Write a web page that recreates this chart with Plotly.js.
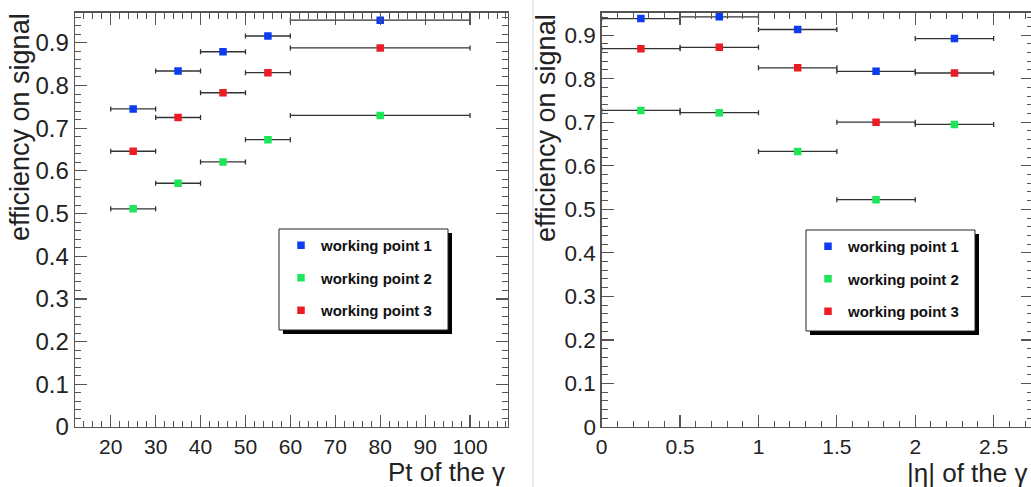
<!DOCTYPE html>
<html>
<head>
<meta charset="utf-8">
<script src="https://cdn.plot.ly/plotly-3.0.1.min.js"></script>
<style>
html,body{margin:0;padding:0;overflow:hidden;background:#fff;}
#plot{width:1035px;height:487px;}
</style>
</head>
<body>
<div id="plot"></div>
<script>
// ---- data ----
const seriesNames = ["working point 1", "working point 2", "working point 3"];
const ptCenters = [25, 35, 45, 55, 80];
const ptHalfWidths = [5, 5, 5, 5, 20];
const ptWP1 = [0.745, 0.834, 0.879, 0.916, 0.953];
const ptWP2 = [0.511, 0.571, 0.621, 0.673, 0.730];
const ptWP3 = [0.646, 0.725, 0.783, 0.830, 0.888];

const etaCenters = [0.25, 0.75, 1.25, 1.75, 2.25];
const etaHalfWidths = [0.25, 0.25, 0.25, 0.25, 0.25];
const etaWP1 = [0.938, 0.942, 0.913, 0.817, 0.892];
const etaWP2 = [0.727, 0.722, 0.633, 0.522, 0.695];
const etaWP3 = [0.869, 0.872, 0.825, 0.700, 0.813];

const colors = ["#0b3cf0", "#1ee65a", "#ec1c24"];

// ---- layout helpers ----
const W = 1035, H = 487;
const px = x => x / W;
const py = y => 1 - y / H;
const FONT = "Liberation Sans, Arial, Helvetica, sans-serif";

function mk(x, y, err, i, xa, ya, leg) {
  return {
    type: "scatter", mode: "markers",
    x: x, y: y, xaxis: xa, yaxis: ya,
    name: seriesNames[i], legend: leg, legendgroup: leg + i,
    marker: {symbol: "square", size: 7.5, color: colors[i]},
    error_x: {type: "data", array: err, visible: true, color: "#333", thickness: 1.3, width: 2.5},
    hoverinfo: "skip"
  };
}

const ptSeries = [ptWP1, ptWP2, ptWP3];
const etaSeries = [etaWP1, etaWP2, etaWP3];
const traces = [];
ptSeries.forEach((s, i) => traces.push(mk(ptCenters, s, ptHalfWidths, i, "x", "y", "legend")));
etaSeries.forEach((s, i) => traces.push(mk(etaCenters, s, etaHalfWidths, i, "x2", "y2", "legend2")));

function axisCommon(extra) {
  return Object.assign({
    showgrid: false, zeroline: false, showline: true, linecolor: "#555", linewidth: 1.3,
    mirror: "allticks", ticks: "inside", ticklen: 12, tickwidth: 1.2, tickcolor: "#555",
    tickfont: {family: FONT, size: 22, color: "#222"},
    fixedrange: true
  }, extra);
}

const yDomain = [py(427), py(12.5)];

const layout = {
  width: W, height: H,
  margin: {l: 0, r: 0, t: 0, b: 0},
  paper_bgcolor: "#fff", plot_bgcolor: "#fff",
  font: {family: FONT, color: "#222"},
  xaxis: axisCommon({domain: [px(75), px(508)], range: [12.05, 108.45], anchor: "y",
    dtick: 10, tick0: 0, tickfont: {family: FONT, size: 21, color: "#222"},
    minor: {dtick: 2, ticks: "inside", ticklen: 6, tickcolor: "#555", tickwidth: 1}}),
  yaxis: axisCommon({domain: yDomain, range: [0, 0.971], anchor: "x",
    dtick: 0.1, tick0: 0, tickfont: {family: FONT, size: 24, color: "#222"},
    minor: {dtick: 0.02, ticks: "inside", ticklen: 6, tickcolor: "#555", tickwidth: 1}}),
  xaxis2: axisCommon({domain: [px(601.7), px(1033)], range: [0, 2.751], anchor: "y2",
    dtick: 0.5, tick0: 0, tickfont: {family: FONT, size: 21, color: "#222"},
    minor: {dtick: 0.1, ticks: "inside", ticklen: 6, tickcolor: "#555", tickwidth: 1}}),
  yaxis2: axisCommon({domain: yDomain, range: [0, 0.952], anchor: "x2",
    dtick: 0.1, tick0: 0, tickfont: {family: FONT, size: 22.5, color: "#222"},
    minor: {dtick: 0.02, ticks: "inside", ticklen: 6, tickcolor: "#555", tickwidth: 1}}),
  legend: {x: px(281), y: py(229), xanchor: "left", yanchor: "top",
    bgcolor: "rgba(0,0,0,0)", borderwidth: 0, tracegroupgap: 10,
    font: {family: FONT, size: 15, color: "#111", weight: "bold"}},
  legend2: {x: px(808), y: py(230), xanchor: "left", yanchor: "top",
    bgcolor: "rgba(0,0,0,0)", borderwidth: 0, tracegroupgap: 10,
    font: {family: FONT, size: 15, color: "#111", weight: "bold"}},
  showlegend: true,
  shapes: [
    {type: "line", xref: "paper", yref: "paper", x0: px(533), x1: px(533), y0: 0, y1: 1,
      line: {color: "#ececec", width: 2}, layer: "below"},
    {type: "rect", xref: "paper", yref: "paper", x0: px(283), x1: px(452), y0: py(334), y1: py(233),
      fillcolor: "#000", line: {width: 0}},
    {type: "rect", xref: "paper", yref: "paper", x0: px(279), x1: px(448), y0: py(330), y1: py(229),
      fillcolor: "#fff", line: {color: "#222", width: 1}},
    {type: "rect", xref: "paper", yref: "paper", x0: px(810), x1: px(979), y0: py(335), y1: py(234),
      fillcolor: "#000", line: {width: 0}},
    {type: "rect", xref: "paper", yref: "paper", x0: px(806), x1: px(975), y0: py(331), y1: py(230),
      fillcolor: "#fff", line: {color: "#222", width: 1}}
  ],
  annotations: [
    {text: "efficiency on signal", xref: "paper", yref: "paper", x: px(20), y: py(11),
      xanchor: "center", yanchor: "top", textangle: -90, showarrow: false,
      font: {family: FONT, size: 27, color: "#222"}},
    {text: "efficiency on signal", xref: "paper", yref: "paper", x: px(546), y: py(12),
      xanchor: "center", yanchor: "top", textangle: -90, showarrow: false,
      font: {family: FONT, size: 27, color: "#222"}},
    {text: "Pt of the γ", xref: "paper", yref: "paper", x: px(507), y: py(472),
      xanchor: "right", yanchor: "middle", showarrow: false,
      font: {family: FONT, size: 26, color: "#222"}},
    {text: "|η| of the γ", xref: "paper", yref: "paper", x: px(1029), y: py(473),
      xanchor: "right", yanchor: "middle", showarrow: false,
      font: {family: FONT, size: 26, color: "#222"}}
  ]
};

Plotly.newPlot("plot", traces, layout, {displayModeBar: false, staticPlot: true});
</script>
</body>
</html>
